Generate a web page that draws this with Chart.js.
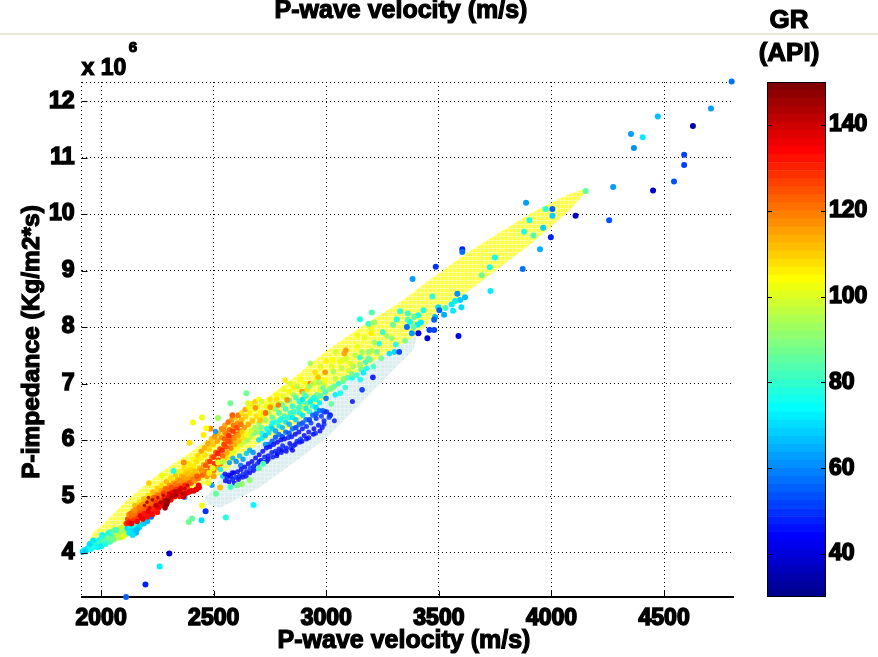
<!DOCTYPE html>
<html>
<head>
<meta charset="utf-8">
<title>P-wave velocity vs P-impedance</title>
<script src="https://cdn.jsdelivr.net/npm/chart.js@4"></script>
<style>
	html, body { margin: 0; padding: 0; background: #fff; overflow: hidden; }
	#rule { position: absolute; left: 0; top: 33px; width: 878px; height: 2px; background: #ece8d8; }
	#myChart { position: absolute; left: 0; top: 0; }
	#grBar { position: absolute; left: 740px; top: 0; }
</style>
</head>
<body>
<div id="rule"></div>
<canvas id="myChart" width="878" height="657"></canvas>
<canvas id="grBar" width="138" height="657"></canvas>
<script>
var xTicks = [2000, 2500, 3000, 3500, 4000, 4500];
var yTicks = [4, 5, 6, 7, 8, 9, 10, 11, 12];
var grTicks = [40, 60, 80, 100, 120, 140];

// MATLAB jet(64), bottom to top of the colour bar
var jet = [
	"#00008F", "#00009F", "#0000AF", "#0000BF", "#0000CF", "#0000DF", "#0000EF", "#0000FF",
	"#0010FF", "#0020FF", "#0030FF", "#0040FF", "#0050FF", "#0060FF", "#0070FF", "#0080FF",
	"#008FFF", "#009FFF", "#00AFFF", "#00BFFF", "#00CFFF", "#00DFFF", "#00EFFF", "#00FFFF",
	"#10FFEF", "#20FFDF", "#30FFCF", "#40FFBF", "#50FFAF", "#60FF9F", "#70FF8F", "#80FF80",
	"#8FFF70", "#9FFF60", "#AFFF50", "#BFFF40", "#CFFF30", "#DFFF20", "#EFFF10", "#FFFF00",
	"#FFEF00", "#FFDF00", "#FFCF00", "#FFBF00", "#FFAF00", "#FF9F00", "#FF8F00", "#FF8000",
	"#FF7000", "#FF6000", "#FF5000", "#FF4000", "#FF3000", "#FF2000", "#FF1000", "#FF0000",
	"#EF0000", "#DF0000", "#CF0000", "#BF0000", "#AF0000", "#9F0000", "#8F0000", "#800000",
];

// outlines of the two shaded zones: [velocity, impedance / 1e6]
var yellowZone = [
	[1917, 4.0], [1966, 4.37], [1997, 4.46], [2117, 4.94], [2263, 5.42], [2410, 5.82], [2560, 6.27],
	[2707, 6.65], [2853, 7.1], [3004, 7.59], [3181, 8.07], [3328, 8.44], [3474, 8.88], [3625, 9.31],
	[3772, 9.68], [3918, 10.04], [4069, 10.34], [4157, 10.46], [4149, 10.37], [4069, 10.02], [3918, 9.5],
	[3772, 9.06], [3625, 8.62], [3492, 8.25], [3404, 7.86], [3270, 7.54], [3075, 7.01], [2853, 6.23],
	[2707, 5.95], [2560, 5.47], [2471, 5.24], [2263, 4.81], [2099, 4.23], [1966, 4.14], [1917, 3.95],
];
var blueZone = [
	[2462, 4.99], [2476, 5.03], [2560, 5.47], [2707, 5.95], [2853, 6.23], [3075, 7.01], [3270, 7.54],
	[3404, 7.86], [3386, 7.59], [3328, 7.36], [3181, 6.76], [3004, 6.05], [2853, 5.59], [2707, 5.17],
	[2529, 4.8], [2476, 4.85],
];

// log samples: [velocity, impedance / 1e6, GR]
var sparseHigh = [
	[4800, 12.35, 58], [4708, 11.87, 62], [4628, 11.56, 35], [4472, 11.73, 66], [4353, 11.42, 63],
	[4405, 11.36, 72], [4366, 11.17, 61], [4589, 11.05, 52], [4589, 10.87, 52], [4544, 10.58, 54],
	[4451, 10.42, 38], [4274, 10.48, 62], [4256, 9.89, 53], [4107, 9.97, 37], [3997, 9.59, 47],
	[4152, 10.41, 85], [3887, 10.2, 63], [3974, 10.09, 80], [4004, 10.09, 55], [4004, 9.97, 68],
	[3902, 9.89, 78], [3963, 9.76, 68], [3878, 9.69, 78], [3920, 9.62, 84], [3949, 9.38, 65],
	[3604, 9.38, 48], [3604, 9.33, 58], [3749, 9.23, 75], [3726, 9.06, 78], [3872, 9.03, 58],
	[3486, 9.07, 50], [3690, 8.92, 88], [3383, 8.85, 63], [3729, 8.64, 72], [3582, 8.59, 60],
	[3471, 8.54, 80], [3616, 8.53, 66], [3594, 8.48, 68], [3572, 8.46, 72], [3557, 8.4, 73],
	[3600, 8.35, 70], [3497, 8.35, 70], [3529, 8.34, 82], [3502, 8.3, 55], [3563, 8.29, 72],
	[3523, 8.22, 65], [3483, 8.18, 65], [3479, 8.13, 55], [3202, 8.26, 83], [3149, 8.14, 78],
	[3431, 8.3, 78], [3328, 8.28, 80], [3362, 8.24, 82], [3408, 8.21, 75], [3390, 8.18, 85],
	[3313, 8.14, 78], [3362, 8.13, 85], [3187, 8.06, 82], [3213, 8.08, 92], [3296, 8.04, 88],
	[3372, 8.09, 75], [3420, 8.08, 72], [3405, 8.04, 72], [3358, 8.0, 58], [3387, 8.0, 85],
	[3458, 7.95, 52], [3479, 7.95, 52], [3409, 7.89, 42], [3380, 7.89, 62], [3449, 7.8, 40],
	[3587, 7.84, 40],
];
var midGreen = [
	[3251, 7.91, 80], [3199, 7.89, 105], [3198, 7.98, 100], [3140, 7.86, 102], [3170, 7.81, 100],
	[3269, 7.84, 92], [3291, 7.8, 90], [3350, 7.76, 88], [3235, 7.71, 78], [3213, 7.73, 92],
	[3309, 7.69, 75], [3280, 7.53, 70], [3303, 7.56, 68], [3324, 7.56, 50], [3244, 7.45, 88],
	[3087, 7.59, 118], [3080, 7.53, 115], [3042, 7.56, 98], [3138, 7.65, 102], [3202, 7.58, 95],
	[3225, 7.56, 88], [3158, 7.56, 92], [3188, 7.56, 90], [3128, 7.5, 96], [3076, 7.42, 100],
	[3150, 7.46, 78], [3187, 7.45, 85], [3106, 7.36, 100], [3150, 7.33, 90], [3210, 7.3, 82],
	[3180, 7.27, 75], [3025, 7.3, 100], [3069, 7.27, 96], [2929, 7.36, 92], [2995, 7.2, 118],
	[3032, 7.21, 92], [3113, 7.17, 88], [3165, 7.19, 72], [3207, 7.11, 45], [3151, 7.07, 75],
	[3076, 7.09, 90], [3040, 7.09, 96], [2964, 7.11, 112], [2929, 7.0, 120], [2995, 7.06, 104],
	[3084, 6.93, 80], [3159, 6.89, 50], [3025, 6.92, 88], [2973, 6.89, 100], [2914, 6.89, 108],
	[2892, 6.86, 118], [2958, 6.8, 88], [3062, 6.83, 75], [3040, 6.8, 72], [2999, 6.74, 58],
	[3022, 6.64, 85], [2929, 6.68, 72], [2958, 6.53, 78], [2898, 6.59, 100], [2991, 6.5, 52],
	[3017, 6.44, 45], [2720, 6.42, 105], [2735, 6.6, 102], [2750, 6.72, 108], [2765, 6.55, 100],
	[2780, 6.8, 104], [2795, 6.65, 98], [2810, 6.9, 102], [2825, 6.72, 94], [2840, 7.0, 100],
	[2855, 6.8, 92], [2870, 6.95, 96], [2885, 7.08, 104], [2900, 6.82, 88], [2730, 6.35, 92],
	[2745, 6.48, 95], [2760, 6.4, 85], [2775, 6.55, 90], [2790, 6.48, 82], [2805, 6.62, 86],
	[2820, 6.55, 80], [2835, 6.7, 84], [2850, 6.6, 78], [2865, 6.75, 82], [2880, 6.68, 75],
	[2895, 6.72, 70], [2910, 6.78, 80], [2925, 6.95, 90], [2940, 7.0, 96], [2955, 7.02, 98],
	[2970, 7.02, 92], [2945, 6.75, 76], [2985, 6.92, 86], [2817, 7.06, 105], [2751, 6.58, 118],
	[2787, 6.62, 120], [2826, 6.71, 118], [2685, 6.57, 118], [2707, 6.35, 112], [2730, 6.48, 122],
];
var midFill = [
	[2715, 6.12, 74], [2735, 6.2, 76], [2755, 6.24, 72], [2775, 6.32, 78], [2795, 6.35, 74],
	[2815, 6.42, 80], [2835, 6.4, 76], [2855, 6.5, 78], [2875, 6.55, 84], [2895, 6.62, 76],
	[2915, 6.65, 82], [2935, 6.72, 86], [2955, 6.72, 78], [2975, 6.78, 82], [2995, 6.85, 80],
	[3015, 6.9, 88], [3035, 6.95, 84], [3055, 7.0, 78], [3075, 7.04, 86], [3095, 7.1, 82],
	[3115, 7.1, 76], [3135, 7.15, 80], [3155, 7.25, 84], [3175, 7.38, 80], [3195, 7.42, 86],
	[3120, 7.3, 92], [3100, 7.23, 98], [3090, 7.45, 98], [3060, 7.38, 102], [3030, 7.42, 104],
	[3000, 7.4, 106], [2975, 7.3, 100], [2950, 7.2, 108], [2990, 7.0, 98], [2960, 7.1, 106],
	[2905, 7.0, 104], [2880, 6.9, 100], [2855, 6.94, 106], [2835, 6.86, 104], [2808, 6.78, 100],
	[2780, 6.72, 108], [2755, 6.62, 106],
];
var cyanBand = [
	[2700, 6.0, 70], [2715, 6.03, 72], [2730, 6.08, 66], [2745, 6.13, 70], [2760, 6.2, 68],
	[2775, 6.16, 62], [2790, 6.25, 72], [2805, 6.22, 66], [2820, 6.32, 70], [2835, 6.28, 64],
	[2850, 6.4, 72], [2865, 6.36, 68], [2880, 6.48, 74], [2895, 6.44, 70], [2910, 6.56, 72],
	[2925, 6.5, 76], [2940, 6.6, 74], [2955, 6.58, 68], [2970, 6.66, 72], [2760, 6.3, 74],
	[2800, 6.38, 76], [2840, 6.48, 78], [2880, 6.58, 80], [2570, 5.6, 62], [2585, 5.68, 64],
	[2600, 5.62, 60], [2615, 5.72, 66], [2630, 5.66, 62], [2645, 5.76, 68], [2620, 5.55, 58],
	[2660, 5.82, 64], [2675, 5.78, 60], [2540, 5.36, 68], [2530, 5.48, 72], [2492, 5.2, 60],
	[2508, 6.15, 60], [2760, 5.98, 56], [2775, 6.05, 54], [2790, 6.1, 58], [2805, 6.06, 52],
	[2820, 6.14, 56], [2835, 6.12, 54], [2850, 6.2, 58], [2865, 6.22, 52], [2880, 6.28, 56],
	[2895, 6.3, 54], [2910, 6.36, 58], [2925, 6.36, 52], [2940, 6.44, 56], [2955, 6.46, 54],
	[2970, 6.52, 58], [2985, 6.52, 56], [2745, 5.92, 58], [2730, 5.92, 60],
];
var blueBand = [
	[2552, 5.28, 42], [2560, 5.34, 46], [2568, 5.26, 44], [2576, 5.36, 40], [2584, 5.3, 46],
	[2590, 5.42, 44], [2598, 5.34, 48], [2606, 5.44, 42], [2614, 5.36, 46], [2622, 5.48, 44],
	[2630, 5.4, 48], [2638, 5.52, 42], [2646, 5.44, 46], [2654, 5.58, 44], [2662, 5.5, 50],
	[2670, 5.62, 42], [2678, 5.54, 46], [2686, 5.68, 44], [2694, 5.58, 48], [2702, 5.74, 42],
	[2710, 5.64, 46], [2718, 5.8, 44], [2726, 5.7, 48], [2734, 5.86, 42], [2742, 5.72, 46],
	[2750, 5.88, 44], [2758, 5.78, 46], [2766, 5.92, 42], [2774, 5.8, 48], [2782, 5.96, 44],
	[2790, 5.84, 46], [2798, 6.0, 44], [2806, 5.9, 48], [2814, 6.02, 42], [2822, 5.86, 46],
	[2830, 6.04, 48], [2838, 5.94, 44], [2846, 6.06, 46], [2854, 5.9, 48], [2862, 6.1, 42],
	[2870, 5.98, 46], [2878, 6.14, 44], [2886, 6.02, 50], [2894, 6.2, 46], [2902, 6.08, 44],
	[2912, 6.24, 48], [2922, 6.14, 46], [2932, 6.3, 50], [2945, 6.2, 44], [2955, 6.38, 48],
	[2965, 6.26, 46], [2978, 6.42, 50], [2990, 6.34, 46], [3002, 6.5, 48], [3012, 6.4, 52],
	[3036, 6.34, 45], [3116, 6.68, 42], [2780, 5.72, 44], [2800, 5.78, 46], [2850, 5.82, 42],
	[2735, 5.62, 46],
];
var blueFill = [
	[2702, 5.62, 44], [2722, 5.6, 46], [2742, 5.66, 44], [2762, 5.7, 46], [2782, 5.76, 42],
	[2802, 5.82, 40], [2822, 5.8, 42], [2842, 5.86, 48], [2862, 5.92, 40], [2882, 5.96, 46],
	[2892, 5.98, 42], [2912, 6.02, 44], [2922, 6.04, 46], [2942, 6.1, 44], [2952, 6.12, 48],
	[2972, 6.16, 42], [2982, 6.22, 46], [2990, 6.28, 48], [2550, 5.4, 44], [2566, 5.38, 42],
	[2582, 5.42, 40], [2592, 5.24, 44], [2610, 5.3, 42], [2628, 5.34, 46], [2644, 5.36, 42],
	[2660, 5.42, 44], [2676, 5.46, 42], [2692, 5.5, 44],
];
var orangeUpper = [
	[2416, 5.28, 118], [2420, 5.45, 112], [2424, 5.62, 108], [2432, 5.32, 120], [2438, 5.5, 114],
	[2444, 5.68, 106], [2450, 5.38, 122], [2456, 5.56, 116], [2462, 5.74, 108], [2468, 5.44, 120],
	[2474, 5.62, 118], [2480, 5.84, 110], [2486, 5.5, 126], [2492, 5.7, 120], [2498, 5.92, 112],
	[2504, 5.58, 130], [2510, 5.78, 124], [2516, 5.98, 116], [2522, 5.64, 128], [2528, 5.84, 126],
	[2534, 6.04, 118], [2540, 5.72, 122], [2546, 5.92, 128], [2552, 6.12, 120], [2558, 5.78, 116],
	[2564, 5.98, 126], [2570, 6.18, 122], [2576, 5.86, 120], [2582, 6.04, 124], [2588, 6.26, 120],
	[2594, 5.92, 114], [2600, 6.1, 122], [2606, 6.3, 118], [2612, 5.98, 112], [2618, 6.16, 120],
	[2624, 6.36, 114], [2630, 6.04, 108], [2636, 6.22, 118], [2642, 6.42, 110], [2648, 6.1, 102],
	[2654, 6.28, 116], [2660, 6.48, 106], [2666, 6.16, 98], [2672, 6.34, 112], [2678, 6.54, 102],
	[2684, 6.22, 92], [2690, 6.42, 108], [2696, 6.6, 100], [2702, 6.3, 90], [2708, 6.48, 104],
	[2714, 6.68, 98], [2426, 5.36, 124], [2447, 5.47, 118], [2465, 5.55, 124], [2483, 5.62, 128],
	[2501, 5.7, 128], [2519, 5.76, 132], [2537, 5.82, 130], [2555, 5.88, 126], [2549, 6.02, 124],
	[2573, 5.96, 124], [2591, 6.02, 118], [2609, 6.08, 116], [2627, 6.14, 110], [2567, 6.08, 130],
	[2585, 6.16, 128], [2603, 6.22, 126], [2621, 6.28, 120],
];
var orangeFill = [
	[2430, 5.72, 110], [2445, 5.8, 116], [2460, 5.86, 114], [2475, 5.94, 116], [2490, 6.02, 112],
	[2505, 6.06, 118], [2520, 6.12, 114], [2535, 6.2, 120], [2550, 6.26, 116], [2565, 6.32, 122],
	[2580, 6.36, 118], [2595, 6.4, 112], [2610, 6.44, 120], [2625, 6.48, 108], [2640, 6.54, 116],
	[2655, 6.58, 104], [2670, 6.64, 108], [2685, 6.68, 110], [2700, 6.72, 104], [2440, 5.4, 112],
	[2455, 5.46, 108], [2470, 5.36, 118], [2485, 5.4, 114], [2500, 5.46, 120], [2515, 5.52, 116],
	[2530, 5.58, 120], [2545, 5.64, 112], [2560, 5.7, 108], [2575, 5.76, 104], [2590, 5.82, 100],
	[2605, 5.88, 104], [2620, 5.92, 98], [2635, 5.96, 96], [2650, 6.0, 92], [2665, 6.06, 96],
	[2680, 6.12, 88], [2695, 6.16, 92], [2710, 6.22, 88],
];
var darkStreak = [
	[2192, 4.84, 144], [2204, 4.9, 146], [2216, 4.8, 142], [2228, 4.94, 148], [2240, 4.84, 144],
	[2252, 4.98, 142], [2264, 4.9, 146], [2276, 5.02, 144], [2288, 4.94, 148], [2300, 5.06, 142],
	[2312, 4.98, 146], [2324, 5.1, 144], [2336, 5.02, 148], [2348, 5.12, 142], [2360, 5.06, 146],
	[2372, 5.14, 144], [2384, 5.2, 142], [2210, 4.98, 140],
];
var redBand = [
	[2112, 4.52, 128], [2118, 4.6, 124], [2124, 4.68, 118], [2130, 4.56, 130], [2136, 4.64, 122],
	[2142, 4.74, 116], [2148, 4.58, 128], [2155, 4.68, 120], [2160, 4.82, 112], [2166, 4.62, 132],
	[2172, 4.72, 124], [2178, 4.85, 116], [2184, 4.66, 128], [2190, 4.78, 122], [2196, 4.9, 114],
	[2202, 4.68, 130], [2208, 4.8, 126], [2214, 4.94, 118], [2220, 4.72, 134], [2226, 4.84, 124],
	[2232, 4.98, 120], [2238, 4.76, 132], [2244, 4.9, 128], [2250, 5.04, 118], [2256, 4.8, 136],
	[2262, 4.94, 126], [2268, 5.1, 116], [2274, 4.84, 134], [2280, 4.98, 130], [2286, 5.14, 120],
	[2292, 4.88, 138], [2298, 5.04, 128], [2304, 5.2, 118], [2310, 4.94, 132], [2316, 5.08, 134],
	[2322, 5.24, 116], [2328, 5.0, 136], [2334, 5.14, 128], [2340, 5.3, 114], [2346, 5.06, 134],
	[2352, 5.2, 122], [2358, 5.36, 112], [2364, 5.1, 128], [2370, 5.26, 118], [2376, 5.42, 110],
	[2382, 5.16, 126], [2388, 5.3, 116], [2394, 5.48, 108], [2400, 5.24, 122], [2406, 5.38, 114],
	[2412, 5.54, 106], [2121, 4.53, 132], [2133, 4.7, 120], [2151, 4.76, 118], [2157, 4.6, 126],
	[2169, 4.8, 120], [2175, 4.66, 136], [2187, 4.86, 118], [2193, 4.7, 132], [2205, 4.88, 120],
	[2211, 4.74, 138], [2223, 4.92, 122], [2229, 4.78, 130], [2241, 4.98, 124], [2247, 4.84, 140],
	[2259, 5.02, 120], [2265, 4.88, 136], [2277, 5.06, 126], [2283, 4.92, 142], [2295, 5.12, 122],
	[2301, 4.98, 138], [2313, 5.16, 124], [2319, 5.02, 142], [2331, 5.22, 120], [2337, 5.08, 140],
	[2349, 5.28, 118], [2355, 5.14, 136], [2367, 5.34, 116], [2373, 5.2, 130], [2385, 5.4, 112],
	[2391, 5.24, 124], [2403, 5.46, 110], [2409, 5.3, 120], [2135, 4.52, 136], [2160, 4.56, 134],
	[2185, 4.6, 136], [2205, 4.64, 132], [2228, 4.68, 134], [2250, 4.72, 132], [2212, 5.24, 110],
	[2284, 4.8, 146], [2290, 4.86, 148], [2296, 4.92, 146], [2350, 5.0, 132], [2365, 5.0, 140],
	[2378, 5.06, 138], [2390, 5.08, 138], [2400, 5.1, 136], [2412, 5.1, 138], [2424, 5.13, 136],
	[2436, 5.16, 134], [2433, 5.2, 135],
];
var redFill = [
	[2145, 4.66, 134], [2163, 4.7, 138], [2181, 4.76, 132], [2199, 4.8, 136], [2217, 4.86, 140],
	[2235, 4.9, 134], [2253, 4.94, 138], [2271, 5.0, 134], [2289, 5.04, 138], [2307, 5.08, 134],
	[2325, 5.12, 130], [2343, 5.18, 126], [2361, 5.22, 128], [2379, 5.3, 122], [2397, 5.34, 118],
	[2150, 4.84, 112], [2170, 4.9, 108], [2190, 4.96, 112], [2210, 5.02, 108], [2230, 5.08, 112],
	[2250, 5.14, 110], [2270, 5.2, 108], [2290, 5.26, 112], [2310, 5.32, 108], [2330, 5.38, 110],
	[2350, 5.44, 106], [2370, 5.5, 108], [2390, 5.58, 106], [2410, 5.66, 104],
];
var lowTail = [
	[1918, 4.02, 68], [1925, 4.05, 72], [1932, 4.03, 66], [1940, 4.08, 70], [1948, 4.12, 74],
	[1955, 4.07, 76], [1962, 4.15, 72], [1970, 4.11, 78], [1975, 4.18, 75], [1983, 4.14, 80],
	[1990, 4.22, 76], [1996, 4.17, 82], [2003, 4.26, 78], [2010, 4.2, 84], [2016, 4.3, 80],
	[2024, 4.23, 86], [2030, 4.33, 84], [2037, 4.26, 90], [2044, 4.37, 88], [2050, 4.29, 92],
	[2058, 4.4, 90], [2065, 4.3, 95], [2072, 4.27, 96], [2080, 4.42, 93], [2087, 4.34, 98],
	[2095, 4.45, 96], [2102, 4.38, 92], [2076, 4.36, 94], [2045, 4.31, 86], [2110, 4.48, 100],
	[2120, 4.42, 66], [2135, 4.4, 68], [2148, 4.45, 70], [2155, 4.36, 66], [2170, 4.46, 68],
	[2222, 4.64, 58], [2370, 4.99, 60], [2117, 4.44, 70], [1950, 4.16, 70], [1965, 4.22, 72],
	[1985, 4.1, 74], [2000, 4.12, 72], [2005, 4.32, 76], [2020, 4.16, 78], [2035, 4.36, 80],
	[2040, 4.2, 84], [2055, 4.24, 88], [2065, 4.4, 82], [2085, 4.28, 96], [2100, 4.3, 100],
	[2115, 4.34, 96], [2125, 4.36, 72], [2140, 4.32, 70], [2160, 4.42, 66], [2175, 4.5, 70],
	[2190, 4.52, 68], [2205, 4.56, 66], [2130, 4.48, 74], [2145, 4.5, 78],
];
var outliersLow = [
	[2652, 6.65, 100], [2448, 6.4, 103], [2519, 6.39, 92], [2408, 6.31, 103], [2485, 6.2, 118],
	[2467, 6.21, 104], [2455, 6.09, 105], [2393, 5.95, 108], [2322, 5.45, 78], [2367, 5.6, 118],
	[2271, 5.37, 102], [2448, 4.84, 103], [2677, 4.85, 74], [2389, 4.55, 88], [2404, 4.61, 85],
	[2303, 3.99, 38], [2260, 3.76, 72], [2197, 3.44, 48], [2111, 3.22, 55], [2464, 4.74, 50],
	[2446, 4.58, 70], [2554, 4.63, 78], [2574, 6.65, 88], [2645, 6.83, 88], [2583, 6.44, 122],
	[2543, 6.18, 118], [2660, 5.29, 90], [2575, 5.17, 82], [2605, 5.2, 88], [2625, 5.22, 90],
	[2700, 5.5, 86], [2720, 5.58, 84], [2510, 5.05, 85], [2495, 5.5, 100], [2520, 5.6, 102],
	[2540, 5.62, 96], [2476, 5.24, 102], [2529, 5.16, 112], [2500, 5.36, 116], [2480, 5.42, 105],
];

function grColor(gr) {
	var i = Math.floor(((gr - 30) / 120) * jet.length);
	return jet[Math.min(Math.max(i, 0), jet.length - 1)];
}

// the zones are hatched in the original, a small tile does that
function hatch(base, light) {
	var tile = document.createElement("canvas");
	tile.width = 4;
	tile.height = 4;
	var c = tile.getContext("2d");
	c.fillStyle = base;
	c.fillRect(0, 0, 4, 4);
	c.fillStyle = light;
	c.fillRect(0, 0, 4, 1);
	c.fillRect(0, 0, 1, 4);
	return c.createPattern(tile, "repeat");
}

// alpha is a hex suffix, the dense clouds look speckled in the original
function samples(list, radius, alpha) {
	return {
		data: list.map(function (p) { return { x: p[0], y: p[1] }; }),
		backgroundColor: list.map(function (p) { return grColor(p[2]) + (alpha || ""); }),
		pointRadius: radius,
		pointBorderWidth: 0,
		showLine: false,
		clip: false,
	};
}

function zone(list, fillStyle) {
	return {
		data: list.map(function (p) { return { x: p[0], y: p[1] }; }),
		showLine: true,
		fill: "shape",
		backgroundColor: fillStyle,
		borderWidth: 0,
		pointRadius: 0,
		tension: 0,
	};
}

// Chart.js titles have no stroke option, the original lettering is very heavy
function heavyText(c, text, x, y, size, rotate) {
	c.save();
	c.translate(x, y);
	if (rotate) c.rotate(rotate);
	c.fillStyle = "#000";
	c.strokeStyle = "#000";
	c.lineWidth = 1.2;
	c.textAlign = "center";
	c.textBaseline = "middle";
	c.font = "bold " + size + "px 'Liberation Sans'";
	c.fillText(text, 0, 0);
	c.strokeText(text, 0, 0);
	c.restore();
}

// short inward ticks on the left and bottom edges, titles and the axis multiplier
var plotExtras = {
	id: "plotExtras",
	afterDraw: function (chart) {
		var c = chart.ctx, a = chart.chartArea;
		c.save();
		c.strokeStyle = "#000";
		c.lineWidth = 1;
		c.beginPath();
		xTicks.forEach(function (v) {
			var px = Math.round(chart.scales.x.getPixelForValue(v)) + 0.5;
			c.moveTo(px, a.bottom);
			c.lineTo(px, a.bottom - 6);
		});
		yTicks.forEach(function (v) {
			var py = Math.round(chart.scales.y.getPixelForValue(v)) + 0.5;
			c.moveTo(a.left, py);
			c.lineTo(a.left + 6, py);
		});
		c.stroke();
		c.restore();
		heavyText(c, "P-wave velocity (m/s)", 401, 11, 25);
		heavyText(c, "P-wave velocity (m/s)", 404, 641, 25);
		heavyText(c, "P-impedance (Kg/m2*s)", 32, 342, 24.5, -Math.PI / 2);
		heavyText(c, "x 10", 104, 69, 23);
		heavyText(c, "6", 133, 48, 15);
		heavyText(c, "GR", 789, 21, 26);
		heavyText(c, "(API)", 789, 54, 26);
	},
};

new Chart("myChart", {
	type: "scatter",
	data: {
		datasets: [
			samples(outliersLow, 3),
			samples(sparseHigh, 3),
			samples(blueBand, 2.5, "D0"),
			samples(blueFill, 2.5, "D0"),
			samples(cyanBand, 2.7, "E0"),
			samples(midGreen, 2.8, "E8"),
			samples(midFill, 2.8, "E0"),
			samples(darkStreak, 1.8, "D8"),
			samples(orangeUpper, 2.8, "E8"),
			samples(orangeFill, 2.8, "E8"),
			samples(redBand, 2.8),
			samples(redFill, 2.8),
			samples(lowTail, 3),
			zone(blueZone, hatch("#dcedf0", "#eaf4f6")),
			zone(yellowZone, hatch("#ffff40", "#ffff9c")),
		],
	},
	plugins: [plotExtras],
	options: {
		responsive: false,
		animation: false,
		layout: { padding: { left: 0, right: 145, top: 82, bottom: 0 } },
		plugins: {
			legend: { display: false },
			tooltip: { enabled: false },
		},
		scales: {
			x: {
				type: "linear",
				min: 1913,
				max: 4806,
				afterFit: function (scale) { scale.height = 60; },
				afterBuildTicks: function (scale) {
					scale.ticks = [{ value: 1913 }].concat(xTicks.map(function (v) { return { value: v }; }));
				},
				border: { display: true, color: "#000", width: 2, dash: [1, 3] },
				grid: { color: "#000", lineWidth: 1, drawTicks: false },
				ticks: {
					color: "#000",
					padding: 8,
					maxRotation: 0,
					font: { family: "'Liberation Sans'", size: 23, weight: "bold" },
					textStrokeColor: "#000",
					textStrokeWidth: 1.6,
					callback: function (v) { return xTicks.indexOf(v) >= 0 ? String(v) : ""; },
				},
			},
			y: {
				min: 3.22,
				max: 12.34,
				afterFit: function (scale) { scale.width = 81.5; },
				afterBuildTicks: function (scale) {
					scale.ticks = yTicks.concat([12.34]).map(function (v) { return { value: v }; });
				},
				border: { display: false, dash: [1, 3] },
				grid: { color: "#000", lineWidth: 1, drawTicks: false },
				ticks: {
					color: "#000",
					padding: 7,
					font: { family: "'Liberation Sans'", size: 23, weight: "bold" },
					textStrokeColor: "#000",
					textStrokeWidth: 1.6,
					callback: function (v) { return yTicks.indexOf(v) >= 0 ? String(v) : ""; },
				},
			},
		},
	},
});

// colour bar frame and its ticks on both sides
var barFrame = {
	id: "barFrame",
	afterDraw: function (chart) {
		var c = chart.ctx, a = chart.chartArea;
		c.save();
		c.strokeStyle = "#000";
		c.lineWidth = 1;
		c.strokeRect(a.left + 0.5, a.top + 0.5, a.width - 1, a.height - 1);
		c.beginPath();
		grTicks.forEach(function (v) {
			var py = Math.round(chart.scales.y.getPixelForValue(v)) + 0.5;
			c.moveTo(a.left, py);
			c.lineTo(a.left + 5, py);
			c.moveTo(a.right, py);
			c.lineTo(a.right - 5, py);
		});
		c.stroke();
		c.restore();
	},
};

new Chart("grBar", {
	type: "bar",
	data: {
		labels: ["GR"],
		datasets: jet.map(function (color, i) {
			return {
				data: [[30 + (i * 120) / jet.length, 30 + ((i + 1) * 120) / jet.length]],
				backgroundColor: color,
				borderWidth: 0,
				barPercentage: 1,
				categoryPercentage: 1,
			};
		}),
	},
	plugins: [barFrame],
	options: {
		responsive: false,
		animation: false,
		layout: { padding: { left: 27, right: 0, top: 82, bottom: 60 } },
		plugins: {
			legend: { display: false },
			tooltip: { enabled: false },
		},
		scales: {
			x: { stacked: true, display: false },
			y: {
				position: "right",
				min: 30,
				max: 150,
				afterFit: function (scale) { scale.width = 52; },
				afterBuildTicks: function (scale) {
					scale.ticks = grTicks.map(function (v) { return { value: v }; });
				},
				border: { display: false },
				grid: { display: false, drawTicks: false },
				ticks: {
					color: "#000",
					padding: 3,
					font: { family: "'Liberation Sans'", size: 23, weight: "bold" },
					textStrokeColor: "#000",
					textStrokeWidth: 1.6,
				},
			},
		},
	},
});
</script>
</body>
</html>
